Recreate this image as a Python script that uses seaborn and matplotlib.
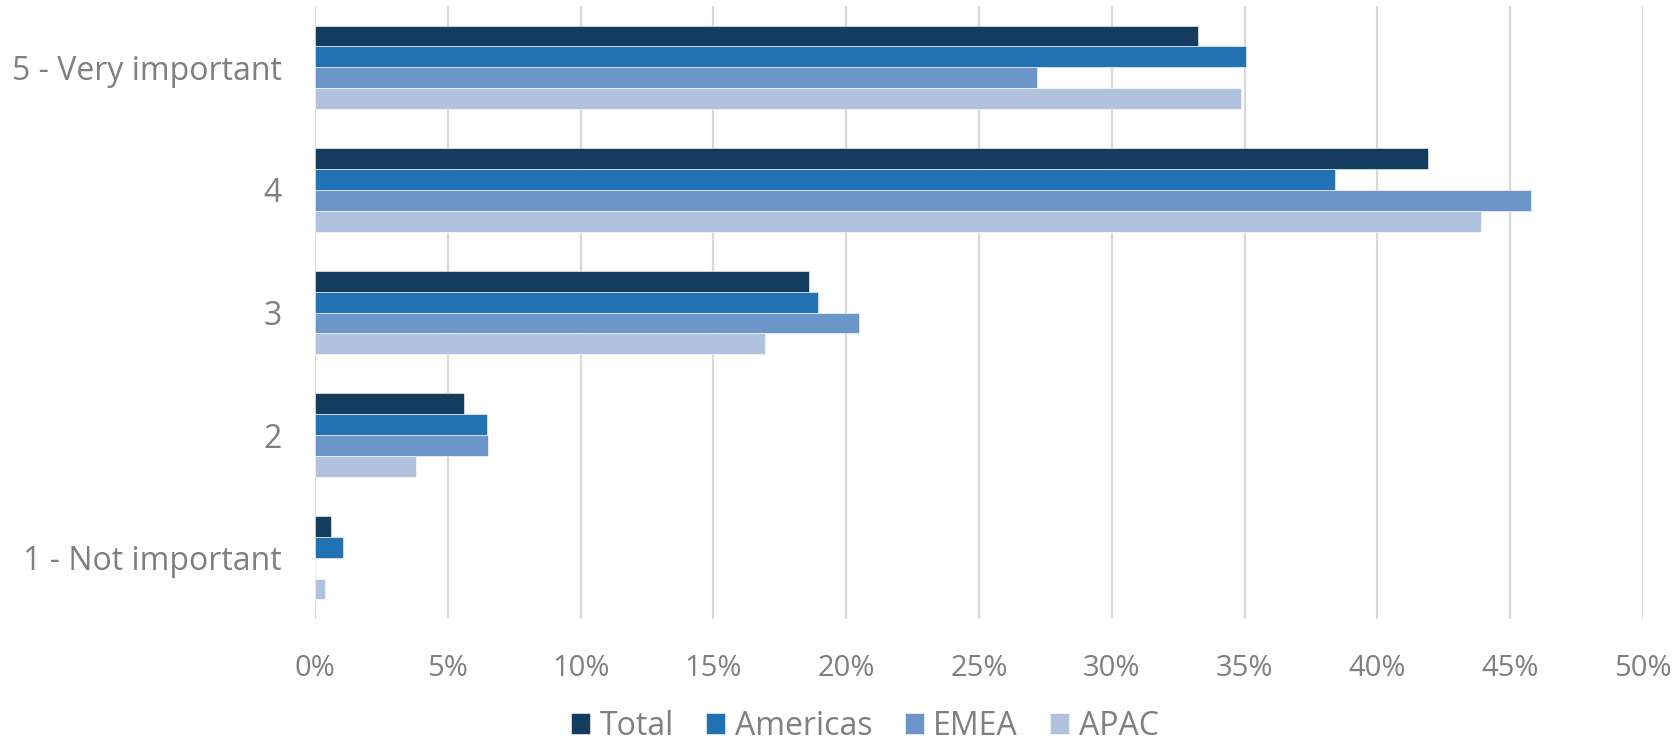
import matplotlib
matplotlib.use("Agg")
import matplotlib.pyplot as plt
import seaborn as sns
import pandas as pd
from matplotlib.ticker import PercentFormatter

# data (percent of respondents)
ratings = ["5 - Very important", "4", "3", "2", "1 - Not important"]
regions = ["Total", "Americas", "EMEA", "APAC"]
total = [33.25, 41.9, 18.6, 5.6, 0.59]
americas = [35.05, 38.4, 18.95, 6.48, 1.07]
emea = [27.2, 45.8, 20.5, 6.53, 0.0]
apac = [34.85, 43.9, 16.95, 3.82, 0.38]
colors = ["#133c5e", "#2171b3", "#6c96c8", "#b0c2de"]

rows = []
for reg, vals in zip(regions, [total, americas, emea, apac]):
    for r, v in zip(ratings, vals):
        rows.append({"rating": r, "region": reg, "pct": v})
df = pd.DataFrame(rows)

sns.set_style("white")
plt.rcParams["font.family"] = ["Open Sans", "DejaVu Sans"]

fig = plt.figure(figsize=(16.8, 7.47), dpi=100)
ax = fig.add_axes([315 / 1680, 1 - 619 / 747, (1643 - 315) / 1680, (619 - 6) / 747])

sns.barplot(data=df, x="pct", y="rating", hue="region", order=ratings,
            hue_order=regions, palette=colors, orient="h", width=0.68,
            errorbar=None, saturation=1, ax=ax, edgecolor="white", linewidth=0.4)

ax.set_xlim(0, 50)
ax.set_ylim(4.5, -0.5)
ax.set_xticks(range(0, 51, 5))
ax.xaxis.set_major_formatter(PercentFormatter(decimals=0))
ax.grid(axis="x", color="#d9d9d9", linewidth=1.6)
ax.set_axisbelow(True)
for s in ax.spines.values():
    s.set_visible(False)
ax.set_xlabel("")
ax.set_ylabel("")
ax.tick_params(axis="both", length=0, labelcolor="#7f7f7f")
ax.tick_params(axis="x", pad=25, labelsize=21)
ax.tick_params(axis="y", pad=24, labelsize=23)

handles, labels = ax.get_legend_handles_labels()
ax.get_legend().remove()
fig.legend(handles, labels, loc="lower center", bbox_to_anchor=(865 / 1680, -0.033),
           ncol=4, frameon=False, fontsize=23, labelcolor="#7f7f7f",
           handlelength=0.6, handleheight=0.6, handletextpad=0.3, columnspacing=1.0)

fig.savefig("out.png", dpi=100)
